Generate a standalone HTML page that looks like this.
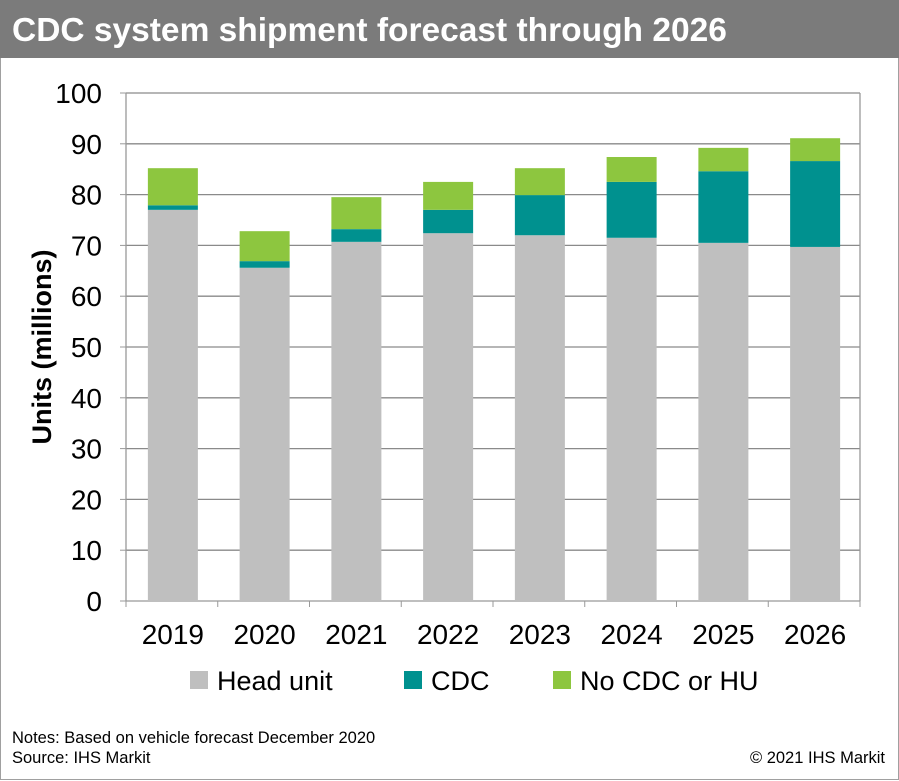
<!DOCTYPE html>
<html><head><meta charset="utf-8"><style>
body{margin:0;width:899px;height:781px;background:#fff;font-family:"Liberation Sans",Arial,sans-serif;overflow:hidden;position:relative}
#title{position:absolute;left:0;top:0;width:899px;height:58px;background:#7b7b7b;color:#fff;font-weight:bold;font-size:33.5px;line-height:62px;padding-left:12px;box-sizing:border-box;white-space:nowrap}
#frame{position:absolute;left:0;top:58px;width:897px;height:721px;border:1px solid #a0a0a0;border-top:none}
.note{position:absolute;font-size:16.5px;color:#000;white-space:nowrap}
</style></head><body>
<div id="title">CDC system shipment forecast through 2026</div>
<div id="frame"></div>
<svg id="chart" width="899" height="781" style="position:absolute;left:0;top:0"></svg>
<div class="note" style="left:12px;top:729px">Notes: Based on vehicle forecast December 2020</div>
<div class="note" style="left:12px;top:749px">Source: IHS Markit</div>
<div class="note" style="right:14px;top:749px">© 2021 IHS Markit</div>
<script>
const categories=["2019","2020","2021","2022","2023","2024","2025","2026"];
const headUnit=[77.0,65.6,70.7,72.4,72.0,71.5,70.5,69.7];
const cdc=[0.9,1.3,2.5,4.6,7.9,11.0,14.1,16.9];
const noCdc=[7.3,5.9,6.3,5.5,5.3,4.9,4.6,4.5];
const yTicks=[0,10,20,30,40,50,60,70,80,90,100];
const seriesNames=["Head unit","CDC","No CDC or HU"];
const colors=["#bfbfbf","#00918f","#8dc63f"];
const NS="http://www.w3.org/2000/svg";
const svg=document.getElementById('chart');
const L=126,R=860,T=93,B=601;
const y=v=>B-(v/100)*(B-T);
const band=(R-L)/categories.length;
const x=i=>L+band*i+band/2+1;
function mk(t,a){const e=document.createElementNS(NS,t);for(const k in a)e.setAttribute(k,a[k]);svg.appendChild(e);return e;}
yTicks.forEach(t=>{
 const l=mk('line',{x1:L,x2:R,y1:y(t),y2:y(t),stroke:t===0?'#999':'#8a8a8a','stroke-width':1.3});
 
 
 const tx=mk('text',{x:L-24,y:y(t)+10,'text-anchor':'end','font-size':28,fill:'#000','font-family':'Liberation Sans'});
 tx.textContent=t;
 
 
 const tk=mk('line',{x1:L-6,x2:L,y1:y(t),y2:y(t),stroke:'#999'});
 
 
});
const ax=mk('line',{x1:L,x2:L,y1:T,y2:B,stroke:'#999','stroke-width':1.3});


const rx=mk('line',{x1:R,x2:R,y1:T,y2:B,stroke:'#999','stroke-width':1.3});


for(let i=0;i<=categories.length;i++){
 const tk=mk('line',{x1:L+band*i,x2:L+band*i,y1:B,y2:B+6,stroke:'#999'});
 
 
}
const bw=50;
categories.forEach((c,i)=>{
 let base=0;
 [headUnit,cdc,noCdc].forEach((s,j)=>{
  const v=s[i];
  const r=mk('rect',{x:x(i)-bw/2,y:y(base+v),width:bw,height:y(base)-y(base+v),fill:colors[j]});
  
  
  base+=v;
 });
 const t=mk('text',{x:x(i),y:644,'text-anchor':'middle','font-size':28,fill:'#000','font-family':'Liberation Sans'});
 t.textContent=c;
 
 
});
const yt=mk('text',{x:0,y:0,transform:'translate(51,347) rotate(-90)','text-anchor':'middle','font-size':27,'font-weight':'bold',fill:'#000','font-family':'Liberation Sans'});
yt.textContent='Units (millions)';


const lx=[190,404,553];
seriesNames.forEach((n,j)=>{
 const r=mk('rect',{x:lx[j],y:671,width:18,height:18,fill:colors[j]});
 
 
 const t=mk('text',{x:lx[j]+27,y:690,'font-size':27,fill:'#000','font-family':'Liberation Sans'});
 t.textContent=n;
 
 
});
</script>
</body></html>
